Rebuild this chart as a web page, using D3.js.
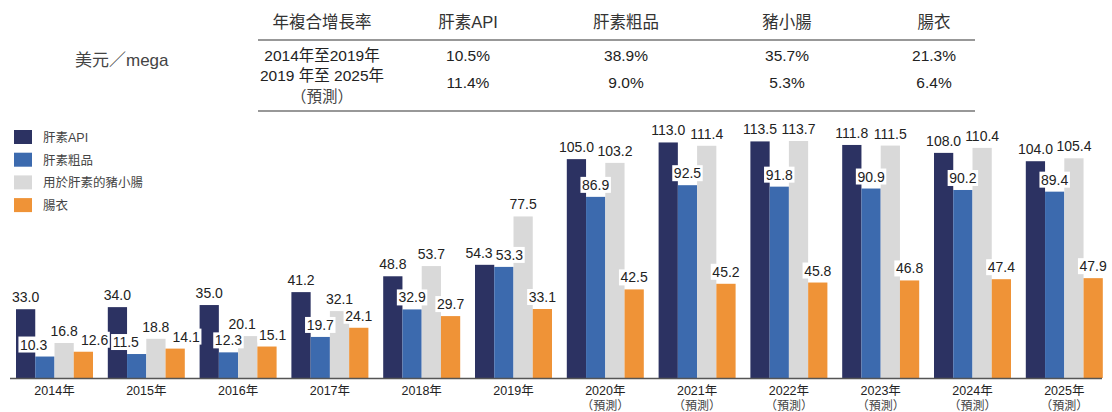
<!DOCTYPE html>
<html>
<head>
<meta charset="utf-8">
<script src="https://cdn.jsdelivr.net/npm/d3@7"></script>
<style>
  body { margin: 0; background: #fff; }
  svg { font-family: "Liberation Sans", Arial, "Noto Sans CJK TC", sans-serif; }
</style>
</head>
<body>
<div id="chart"></div>
<script>
var years = ["2014年", "2015年", "2016年", "2017年", "2018年", "2019年",
  "2020年", "2021年", "2022年", "2023年", "2024年", "2025年"];
var forecast = [false, false, false, false, false, false, true, true, true, true, true, true];
var seriesNames = ["肝素API", "肝素粗品", "用於肝素的豬小腸", "腸衣"];
var api = [33.0, 34.0, 35.0, 41.2, 48.8, 54.3, 105.0, 113.0, 113.5, 111.8, 108.0, 104.0];
var crude = [10.3, 11.5, 12.3, 19.7, 32.9, 53.3, 86.9, 92.5, 91.8, 90.9, 90.2, 89.4];
var intestine = [16.8, 18.8, 20.1, 32.1, 53.7, 77.5, 103.2, 111.4, 113.7, 111.5, 110.4, 105.4];
var casing = [12.6, 14.1, 15.1, 24.1, 29.7, 33.1, 42.5, 45.2, 45.8, 46.8, 47.4, 47.9];
var colors = ["#2c3262", "#3c6aae", "#d9d9d9", "#ef9337"];

// CAGR table
var cagrHeader = ["年複合增長率", "肝素API", "肝素粗品", "豬小腸", "腸衣"];
var cagr1419 = ["10.5%", "38.9%", "35.7%", "21.3%"];
var cagr1925 = ["11.4%", "9.0%", "5.3%", "6.4%"];

var width = 1112, height = 412;
var baseY = 378;

var svg = d3.select("#chart").append("svg")
  .attr("width", width)
  .attr("height", height);

var allSeries = [api, crude, intestine, casing];

var x0 = d3.scaleBand()
  .domain(years)
  .range([7, 7 + 91.8 * 12]);

var x1 = d3.scaleBand()
  .domain(d3.range(4))
  .range([9, 9 + 77]);

var y = d3.scaleLinear()
  .domain([0, 113.7])
  .range([baseY, 141]);

// bars
years.forEach((yr, i) => {
  var g = svg.append("g").attr("transform", `translate(${x0(yr)},0)`);
  allSeries.forEach((s, k) => {
    g.append("rect")
      .attr("x", x1(k))
      .attr("y", y(s[i]))
      .attr("width", x1.bandwidth())
      .attr("height", baseY - y(s[i]))
      .attr("fill", colors[k]);
  });
});

// value labels with white background, nudged apart when they collide
var labels = svg.append("g");
years.forEach((yr, i) => {
  var items = allSeries.map((s, k) => {
    var cx = x0(yr) + x1(k) + x1.bandwidth() / 2;
    var t = labels.append("text")
      .attr("x", cx)
      .attr("y", y(s[i]) - 7)
      .attr("text-anchor", "middle")
      .attr("font-size", 14)
      .attr("fill", "#222")
      .text(s[i].toFixed(1));
    var bb = t.node().getBBox();
    return { t: t, cx: cx, w: bb.width + 3, y0: bb.y, y1: bb.y + bb.height };
  });
  for (var it = 0; it < 30; it++) {
    for (var a = 0; a < 4; a++) {
      for (var b = a + 1; b < 4; b++) {
        var A = items[a], B = items[b];
        if (A.y1 <= B.y0 || B.y1 <= A.y0) continue;
        var ov = (A.w + B.w) / 2 - (B.cx - A.cx);
        if (ov > 0) { A.cx -= ov / 2; B.cx += ov / 2; }
      }
    }
  }
  items.forEach((d) => {
    d.t.attr("x", d.cx);
    labels.insert("rect", function () { return d.t.node(); })
      .attr("x", d.cx - d.w / 2)
      .attr("y", d.y0)
      .attr("width", d.w)
      .attr("height", d.y1 - d.y0)
      .attr("fill", "#fff");
  });
});

// x axis
svg.append("line")
  .attr("x1", 10).attr("x2", 1102)
  .attr("y1", baseY + 0.5).attr("y2", baseY + 0.5)
  .attr("stroke", "#555").attr("stroke-width", 1.5);

years.forEach((yr, i) => {
  var cx = x0(yr) + 9 + 38.5;
  svg.append("text")
    .attr("x", cx).attr("y", 395)
    .attr("text-anchor", "middle")
    .attr("font-size", 12.5)
    .attr("fill", "#222")
    .text(yr);
  if (forecast[i]) {
    svg.append("text")
      .attr("x", cx).attr("y", 410)
      .attr("text-anchor", "middle")
      .attr("font-size", 12)
      .attr("fill", "#444")
      .text("（預測）");
  }
});

// legend
seriesNames.forEach((n, k) => {
  var ly = 130 + k * 22.7;
  svg.append("rect")
    .attr("x", 14).attr("y", ly)
    .attr("width", 18).attr("height", 14)
    .attr("fill", colors[k]);
  svg.append("text")
    .attr("x", 43).attr("y", ly + 12)
    .attr("font-size", 12.5)
    .attr("fill", "#444")
    .text(n);
});

// unit
svg.append("text")
  .attr("x", 75).attr("y", 66)
  .attr("font-size", 17)
  .attr("fill", "#444")
  .text("美元／mega");

// table
var colX = [322, 468, 626, 787, 934];
cagrHeader.forEach((h, j) => {
  svg.append("text")
    .attr("x", colX[j]).attr("y", 28)
    .attr("text-anchor", "middle")
    .attr("font-size", 16.5)
    .attr("fill", "#333")
    .text(h);
});
svg.append("line")
  .attr("x1", 258).attr("x2", 975)
  .attr("y1", 40).attr("y2", 40)
  .attr("stroke", "#333").attr("stroke-width", 1.2);
svg.append("line")
  .attr("x1", 258).attr("x2", 975)
  .attr("y1", 111).attr("y2", 111)
  .attr("stroke", "#333").attr("stroke-width", 1.2);

svg.append("text")
  .attr("x", colX[0]).attr("y", 61)
  .attr("text-anchor", "middle").attr("font-size", 15.5).attr("fill", "#222")
  .text("2014年至2019年");
svg.append("text")
  .attr("x", colX[0]).attr("y", 81)
  .attr("text-anchor", "middle").attr("font-size", 15.5).attr("fill", "#222")
  .text("2019 年至 2025年");
svg.append("text")
  .attr("x", colX[0]).attr("y", 102)
  .attr("text-anchor", "middle").attr("font-size", 15.5).attr("fill", "#444")
  .text("（預測）");

cagr1419.forEach((v, j) => {
  svg.append("text")
    .attr("x", colX[j + 1]).attr("y", 61)
    .attr("text-anchor", "middle").attr("font-size", 15.5).attr("fill", "#222")
    .text(v);
});
cagr1925.forEach((v, j) => {
  svg.append("text")
    .attr("x", colX[j + 1]).attr("y", 88)
    .attr("text-anchor", "middle").attr("font-size", 15.5).attr("fill", "#222")
    .text(v);
});
</script>
</body>
</html>
